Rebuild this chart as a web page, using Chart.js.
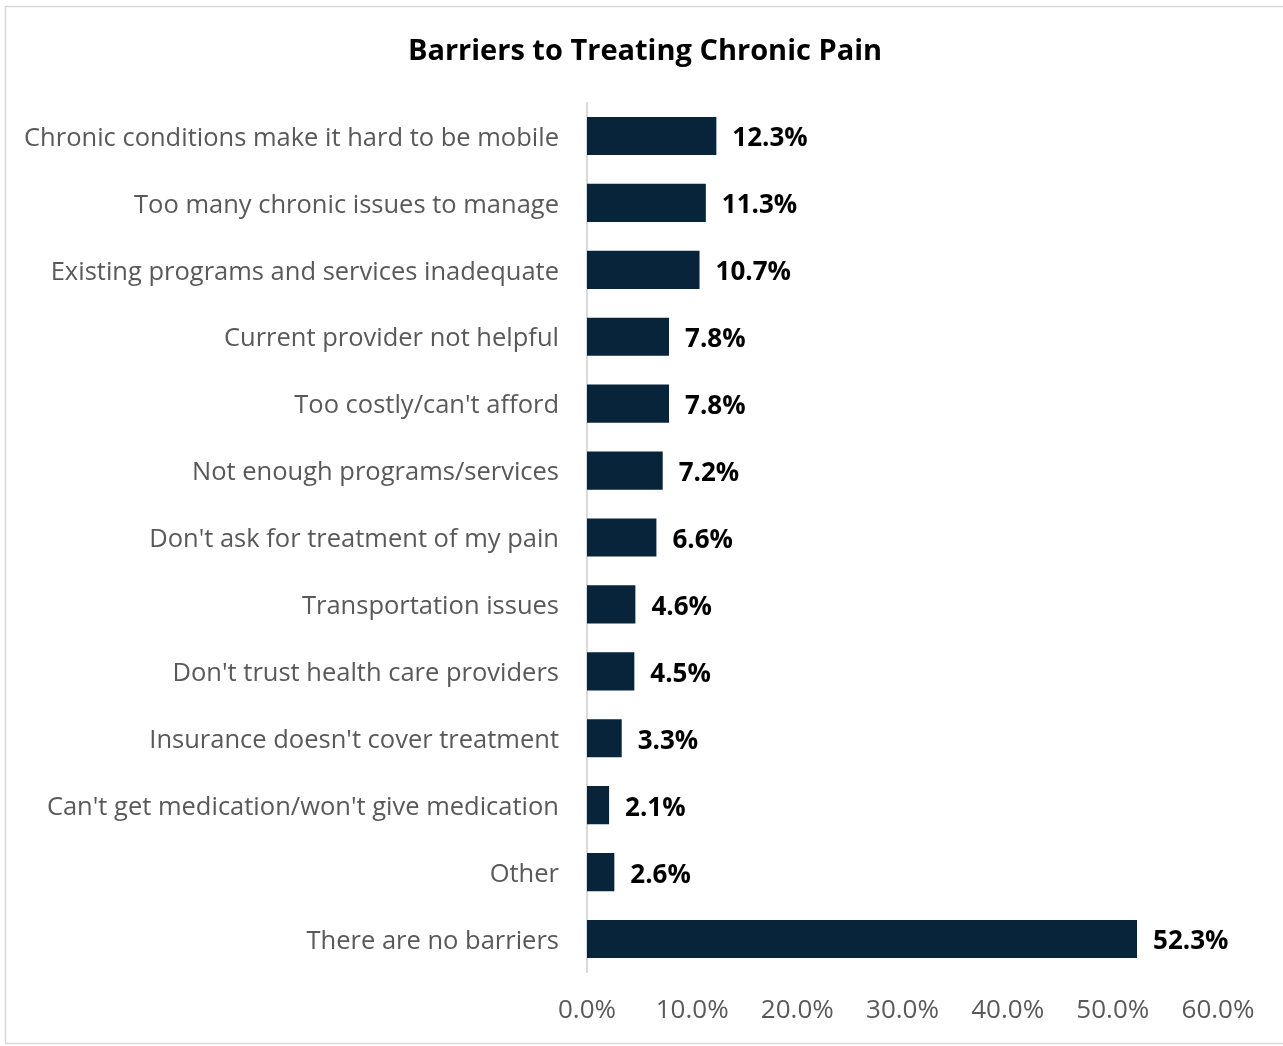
<!DOCTYPE html>
<html>
<head>
<meta charset="utf-8">
<script src="https://cdn.jsdelivr.net/npm/chart.js@4.4.1/dist/chart.umd.min.js"></script>
<style>
  html, body { margin: 0; padding: 0; background: #ffffff; }
  #wrap { position: absolute; left: 0; top: 0; width: 1283px; height: 1046px; }
</style>
</head>
<body>
<div id="wrap"><canvas id="chart" width="1283" height="1046"></canvas></div>
<script>
// Survey responses: barriers to treating chronic pain (percent of respondents)
const categories = [
  "Chronic conditions make it hard to be mobile",
  "Too many chronic issues to manage",
  "Existing programs and services inadequate",
  "Current provider not helpful",
  "Too costly/can't afford",
  "Not enough programs/services",
  "Don't ask for treatment of my pain",
  "Transportation issues",
  "Don't trust health care providers",
  "Insurance doesn't cover treatment",
  "Can't get medication/won't give medication",
  "Other",
  "There are no barriers"
];
const shares = [12.3, 11.3, 10.7, 7.8, 7.8, 7.2, 6.6, 4.6, 4.5, 3.3, 2.1, 2.6, 52.3];
const axisTicks = [0, 10, 20, 30, 40, 50, 60];
const chartTitle = "Barriers to Treating Chronic Pain";

const FONT = "'Open Sans', Lato, sans-serif";
const BAR_COLOR = "#07243a";

// Outer frame around the whole chart
const framePlugin = {
  id: "frame",
  beforeDraw(chart) {
    const ctx = chart.ctx;
    ctx.save();
    ctx.fillStyle = "#ffffff";
    ctx.fillRect(0, 0, chart.width, chart.height);
    ctx.strokeStyle = "#d9d9d9";
    ctx.lineWidth = 1.5;
    ctx.strokeRect(5.5, 6.5, chart.width + 10, 1037);
    ctx.restore();
  }
};

// Centered bold heading above the plot
const headingPlugin = {
  id: "heading",
  afterDraw(chart) {
    const ctx = chart.ctx;
    ctx.save();
    ctx.font = "bold 29px " + FONT;
    ctx.fillStyle = "#000000";
    ctx.textAlign = "center";
    ctx.textBaseline = "middle";
    ctx.fillText(chartTitle, 645, 52);
    ctx.restore();
  }
};

// Bold value labels just past the end of each bar
const valueLabels = {
  id: "valueLabels",
  afterDatasetsDraw(chart) {
    const ctx = chart.ctx;
    const meta = chart.getDatasetMeta(0);
    ctx.save();
    ctx.font = "bold 26px " + FONT;
    ctx.fillStyle = "#000000";
    ctx.textAlign = "left";
    ctx.textBaseline = "middle";
    meta.data.forEach((bar, i) => {
      ctx.fillText(shares[i].toFixed(1) + "%", bar.x + 16, bar.y + 3);
    });
    ctx.restore();
  }
};

new Chart(document.getElementById("chart"), {
  type: "bar",
  data: {
    labels: categories,
    datasets: [{
      data: shares,
      backgroundColor: BAR_COLOR,
      borderWidth: 0,
      barPercentage: 1,
      categoryPercentage: 0.57
    }]
  },
  options: {
    indexAxis: "y",
    responsive: false,
    animation: false,
    layout: { padding: { left: 24, right: 65, top: 102.5, bottom: 0 } },
    plugins: {
      legend: { display: false },
      tooltip: { enabled: false },
      title: { display: false }
    },
    scales: {
      x: {
        min: axisTicks[0],
        max: axisTicks[axisTicks.length - 1],
        afterBuildTicks(scale) {
          scale.ticks = axisTicks.map(v => ({ value: v }));
        },
        ticks: {
          color: "#595959",
          font: { family: FONT, size: 26 },
          padding: 14,
          maxRotation: 0,
          callback: v => Number(v).toFixed(1) + "%"
        },
        grid: { display: false },
        border: { display: false },
        afterFit(scale) { scale.height = 73.5; }
      },
      y: {
        ticks: {
          color: "#595959",
          font: { family: FONT, size: 25.5 },
          padding: 20,
          labelOffset: 2.5,
          autoSkip: false
        },
        grid: { display: false },
        border: { display: true, color: "#d9d9d9", width: 2 },
        afterFit(scale) { scale.width = 563; }
      }
    }
  },
  plugins: [framePlugin, valueLabels, headingPlugin]
});
</script>
</body>
</html>
